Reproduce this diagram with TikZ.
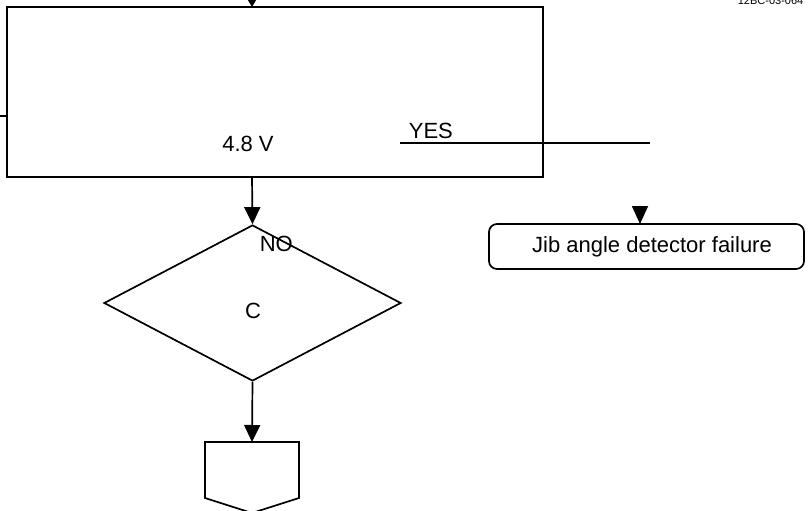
\documentclass[tikz,border=0pt]{standalone}
\usepackage{fontspec}
\setmainfont{Liberation Sans}
\usetikzlibrary{shapes.geometric,arrows.meta}
\begin{document}
\begin{tikzpicture}[x=1pt,y=-1pt,
  line width=1.7pt,
  lbl/.style={font=\fontsize{22}{26}\selectfont, inner sep=0pt},
  flow/.style={-{Triangle[width=16pt,length=17pt]}},
  smalltip/.style={-{Triangle[width=9pt,length=8pt]}},
  box/.style={draw, rectangle, inner sep=0pt},
  decision/.style={draw, diamond, inner sep=0pt, minimum width=297pt, minimum height=156pt},
  result/.style={draw, rectangle, rounded corners=8pt, inner sep=0pt,
                 minimum width=315pt, minimum height=45pt,
                 font=\fontsize{22}{26}\selectfont}]
  \useasboundingbox (0,0) rectangle (809,511);
  \clip (0,0) rectangle (809,511);

  % drawing number
  \node[font=\fontsize{11}{13}\selectfont, anchor=base west, inner sep=0pt] (dwg) at (737,5) {12BC-03-064};

  % check box
  \node[box, minimum width=536pt, minimum height=170pt] (chk) at (275,92) {};
  \node[lbl, anchor=base] (volt) at (248,151) {4.8 V};

  % incoming lines
  \coordinate (intop) at (252,-12);
  \draw[smalltip] (intop) -- (252,7);
  \coordinate (inleft) at (0,116);
  \draw (inleft) -- (7,116);

  % YES branch
  \coordinate (yesA) at (400,143);
  \coordinate (yesB) at (650,143);
  \draw (yesA) -- (yesB);
  \node[lbl, anchor=base west] (yes) at (408,139) {YES};

  % fault result
  \node[result] (fail) at (646.5,246.5) {\hspace*{11pt}Jib angle detector failure};
  \coordinate (failin) at (640,205.5);
  \draw[-{Triangle[width=16pt,length=18pt]}] (failin) -- (640,224);

  % decision
  \node[decision] (dec) at (252.5,303) {};
  \node[lbl] (c) at (253,311) {C};
  \node[lbl, anchor=base west] (no) at (259,251) {NO};
  \draw[flow] (252,177) -- (dec.north);

  % off-page connector
  \coordinate (offtop) at (252,442);
  \draw (205,442) -- (299,442) -- (299,498) -- (252,513) -- (205,498) -- cycle;
  \draw[flow] (dec.south) -- (offtop);
\end{tikzpicture}
\end{document}
